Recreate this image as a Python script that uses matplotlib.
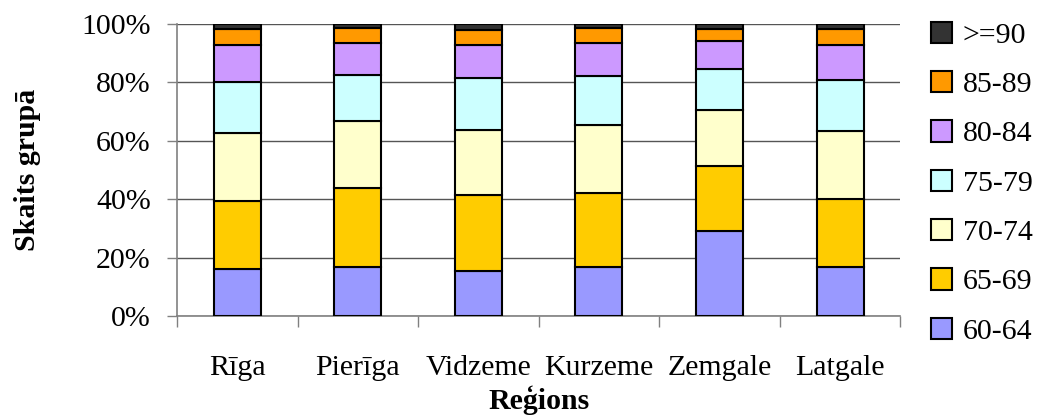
import numpy as np
import matplotlib.pyplot as plt
from matplotlib.ticker import PercentFormatter

plt.rcParams['font.family'] = ['Liberation Serif', 'DejaVu Serif']

regions = ['Rīga', 'Pierīga', 'Vidzeme', 'Kurzeme', 'Zemgale', 'Latgale']
groups = ['60-64', '65-69', '70-74', '75-79', '80-84', '85-89', '>=90']
colors = ['#9999FF', '#FFCC00', '#FFFFCC', '#CCFFFF', '#CC99FF', '#FF9900', '#333333']

# percent share of each age group per region
g60_64 = [16.2, 16.8, 15.4, 16.8, 29.1, 16.8]
g65_69 = [23.2, 26.9, 26.1, 25.3, 22.1, 23.4]
g70_74 = [23.3, 23.2, 22.0, 23.4, 19.2, 23.1]
g75_79 = [17.3, 15.7, 18.0, 16.6, 14.3, 17.4]
g80_84 = [12.9, 11.0, 11.4, 11.5, 9.6, 12.2]
g85_89 = [5.5, 5.0, 4.9, 5.0, 4.1, 5.5]
g90 = [1.6, 1.4, 2.2, 1.4, 1.6, 1.6]

series = [g60_64, g65_69, g70_74, g75_79, g80_84, g85_89, g90]

fs = 21.5
fig = plt.figure(figsize=(10.42, 4.19), dpi=100)
ax = fig.add_axes([0.170, 0.246, 0.694, 0.697])

x = np.arange(len(regions))
bottom = np.zeros(len(regions))
handles = []
for vals, col, lab in zip(series, colors, groups):
    vals = np.array(vals)
    b = ax.bar(x, vals, 0.39, bottom=bottom, color=col, edgecolor='black',
               linewidth=1.5, label=lab, zorder=3)
    handles.append(b)
    bottom += vals

ax.set_xlim(-0.5, len(regions) - 0.5)
ax.set_ylim(0, 100)
ax.set_yticks(np.arange(0, 101, 20))
ax.yaxis.set_major_formatter(PercentFormatter(decimals=0))
ax.grid(axis='y', color='#555555', linewidth=1, zorder=0)

ax.set_xticks(x)
ax.set_xticklabels(regions)
ax.set_xticks(np.arange(-0.5, len(regions)), minor=True)
ax.tick_params(axis='x', which='major', length=0, pad=28, labelsize=fs)
ax.tick_params(axis='x', which='minor', length=8, width=1, color='#808080')
ax.tick_params(axis='y', length=7, width=1, color='#808080', labelsize=fs, pad=12)

for s in ['top', 'right']:
    ax.spines[s].set_visible(False)
for s in ['left', 'bottom']:
    ax.spines[s].set_color('#808080')
    ax.spines[s].set_linewidth(1.2)

ax.set_xlabel('Reģions', fontsize=fs, fontweight='bold', labelpad=3)
ax.set_ylabel('Skaits grupā', fontsize=fs, fontweight='bold', labelpad=29)

fig.legend(handles[::-1], groups[::-1], loc='upper left',
           bbox_to_anchor=(0.882, 0.977), frameon=False, fontsize=fs,
           handlelength=0.72, handleheight=0.72, handletextpad=0.35,
           labelspacing=0.745, borderaxespad=0)

fig.savefig('out.png', dpi=100)
